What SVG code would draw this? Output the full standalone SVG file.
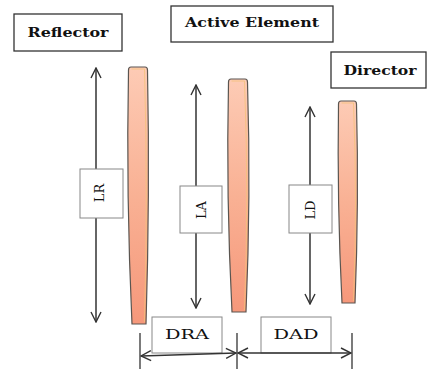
<svg xmlns="http://www.w3.org/2000/svg" width="427" height="369" viewBox="0 0 427 369">
  <defs>
    <linearGradient id="rodFill" x1="0" y1="0" x2="0" y2="1">
      <stop offset="0" stop-color="#fdcbb5"/>
      <stop offset="0.5" stop-color="#f9b194"/>
      <stop offset="1" stop-color="#f6987b"/>
    </linearGradient>
    <marker id="head" viewBox="0 0 12 12" refX="11" refY="6" markerWidth="12" markerHeight="12" markerUnits="userSpaceOnUse" orient="auto-start-reverse">
      <path d="M1,1 L11,6 L1,11" fill="none" stroke="#333" stroke-width="1.4"/>
    </marker>
  </defs>
  <style>
    .title { fill: #fff; stroke: #333; stroke-width: 1.3; }
    .tag { fill: #fff; stroke: #888; stroke-width: 1; }
    .ttl { font-family: "DejaVu Serif", "Liberation Serif", serif; font-weight: bold; font-size: 13px; fill: #111; }
    .lbl { font-family: "DejaVu Serif", "Liberation Serif", serif; font-size: 13px; fill: #111; }
    .rod { fill: url(#rodFill); stroke: #5a5550; stroke-width: 1.2; }
    .rodIn { fill: none; stroke: #f4c27a; stroke-width: 0.8; }
    .dim { stroke: #333; stroke-width: 1.5; fill: none; }
    .tick { stroke: #333; stroke-width: 1.3; }
  </style>

  <!-- element title boxes -->
  <g id="reflector">
    <rect class="title" x="14" y="14" width="108" height="37"/>
    <text class="ttl" x="68" y="37" text-anchor="middle" textLength="81" lengthAdjust="spacingAndGlyphs">Reflector</text>
  </g>
  <g id="active-element">
    <rect class="title" x="171" y="6" width="162" height="36"/>
    <text class="ttl" x="252" y="27" text-anchor="middle" textLength="134" lengthAdjust="spacingAndGlyphs">Active Element</text>
  </g>
  <g id="director">
    <rect class="title" x="331" y="52" width="95" height="36"/>
    <text class="ttl" x="380" y="75" text-anchor="middle" textLength="73" lengthAdjust="spacingAndGlyphs">Director</text>
  </g>

  <!-- antenna rods -->
  <g id="rod-reflector">
    <path class="rod" d="M131,67 H145 Q147.5,67 147.5,70 Q150,195 146,324 H132 Q126,195 128.5,70 Q128.5,67 131,67 Z"/>
    <path class="rodIn" d="M131.5,69 H144.5 Q148,195 144.5,322"/>
  </g>
  <g id="rod-active">
    <path class="rod" d="M231,79 H245 Q247.5,79 247.5,82 Q251,196 246,312 H232 Q226,196 228.5,82 Q228.5,79 231,79 Z"/>
    <path class="rodIn" d="M231.5,81 H244.5 Q249,196 244.5,310"/>
  </g>
  <g id="rod-director">
    <path class="rod" d="M341,101 H354 Q356.5,101 356.5,104 Q359,202 355,303 H342 Q337,202 338.5,104 Q338.5,101 341,101 Z"/>
    <path class="rodIn" d="M341.5,103 H353.5 Q357.5,202 353.5,301"/>
  </g>

  <!-- dimension arrows -->
  <g id="connectors">
    <line class="dim" x1="96" y1="68" x2="96" y2="322" marker-start="url(#head)" marker-end="url(#head)"/>
    <line class="dim" x1="196" y1="85" x2="196" y2="308" marker-start="url(#head)" marker-end="url(#head)"/>
    <line class="dim" x1="310" y1="107" x2="310" y2="304" marker-start="url(#head)" marker-end="url(#head)"/>
    <line class="tick" x1="140" y1="333" x2="140" y2="369"/>
    <line class="tick" x1="237" y1="333" x2="237" y2="369"/>
    <line class="tick" x1="352" y1="333" x2="352" y2="369"/>
  </g>

  <!-- length labels -->
  <g id="label-lr">
    <rect class="tag" x="80" y="169" width="43" height="49"/>
    <text class="lbl" transform="translate(104,193) rotate(-90)" text-anchor="middle" font-size="15">LR</text>
  </g>
  <g id="label-la">
    <rect class="tag" x="180" y="186" width="42" height="47"/>
    <text class="lbl" transform="translate(206,210) rotate(-90)" text-anchor="middle" font-size="15">LA</text>
  </g>
  <g id="label-ld">
    <rect class="tag" x="289" y="185" width="43" height="48"/>
    <text class="lbl" transform="translate(315,210) rotate(-90)" text-anchor="middle" font-size="15">LD</text>
  </g>

  <!-- spacing labels -->
  <g id="label-dra">
    <rect class="tag" x="152" y="317" width="70" height="36" stroke="#555"/>
    <text class="lbl" x="187" y="339" text-anchor="middle" textLength="44" lengthAdjust="spacingAndGlyphs">DRA</text>
  </g>
  <g id="label-dad">
    <rect class="tag" x="261" y="317" width="70" height="36" stroke="#555"/>
    <text class="lbl" x="296" y="339" text-anchor="middle" textLength="45" lengthAdjust="spacingAndGlyphs">DAD</text>
  </g>

  <g id="spacing-arrows">
    <line class="dim" x1="141" y1="356" x2="236" y2="353" marker-start="url(#head)" marker-end="url(#head)"/>
    <line class="dim" x1="238" y1="353" x2="351" y2="353" marker-start="url(#head)" marker-end="url(#head)"/>
  </g>
</svg>
